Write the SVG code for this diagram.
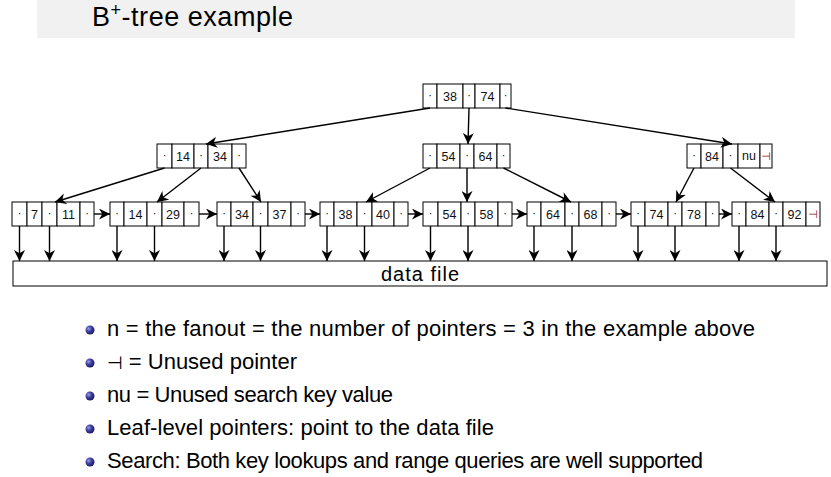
<svg xmlns="http://www.w3.org/2000/svg" width="831" height="477" viewBox="0 0 831 477">
  <defs>
    <marker id="stealth" viewBox="0 0 10 10" refX="10" refY="5" markerWidth="11" markerHeight="11" markerUnits="userSpaceOnUse" orient="auto">
      <path d="M0,0 L10,5 L0,10 L3,5 z" fill="#000"/>
    </marker>
    <radialGradient id="ball" cx="0.35" cy="0.35" r="0.7">
      <stop offset="0" stop-color="#9a9ae0"/>
      <stop offset="0.5" stop-color="#3a3aa0"/>
      <stop offset="1" stop-color="#1a1a5a"/>
    </radialGradient>
  </defs>
  <style>
    .cell { fill: #fff; stroke: #000; stroke-width: 1; }
    .key { font-family: "Liberation Sans", "DejaVu Sans", sans-serif; font-size: 12.5px; fill: #111; text-anchor: middle; }
    .dot { font-family: "DejaVu Sans", sans-serif; font-size: 10px; fill: #000; text-anchor: middle; }
    .nil { font-family: "DejaVu Sans", sans-serif; font-size: 11px; fill: #8b1a1a; text-anchor: middle; }
    .edge { stroke: #000; stroke-width: 1.4; fill: none; marker-end: url(#stealth); }
    .body { font-family: "Liberation Sans", "DejaVu Sans", sans-serif; font-size: 22px; fill: #000; }
  </style>

  <!-- title bar -->
  <rect x="37" y="0" width="758" height="38" fill="#f1f1f1"/>
  <text x="92" y="26" font-family="Liberation Sans, DejaVu Sans, sans-serif" font-size="27" fill="#000" textLength="201" lengthAdjust="spacing">B<tspan font-size="18" dy="-10">+</tspan><tspan dy="10">-tree example</tspan></text>

  <!-- root -->
  <g id="root">
    <rect class="cell" x="423" y="84" width="14" height="24"/>
    <rect class="cell" x="437" y="84" width="26" height="24"/>
    <rect class="cell" x="463" y="84" width="12" height="24"/>
    <rect class="cell" x="475" y="84" width="25" height="24"/>
    <rect class="cell" x="500" y="84" width="11" height="24"/>
    <text class="dot" x="430" y="99">·</text>
    <text class="key" x="450" y="100.5">38</text>
    <text class="dot" x="469" y="99">·</text>
    <text class="key" x="487.5" y="100.5">74</text>
    <text class="dot" x="505.5" y="99">·</text>
  </g>

  <!-- inner level -->
  <g id="inner-left">
    <rect class="cell" x="157" y="144" width="15" height="24"/>
    <rect class="cell" x="172" y="144" width="22" height="24"/>
    <rect class="cell" x="194" y="144" width="14" height="24"/>
    <rect class="cell" x="208" y="144" width="24" height="24"/>
    <rect class="cell" x="232" y="144" width="14" height="24"/>
    <text class="dot" x="164.5" y="159">·</text>
    <text class="key" x="183" y="160.5">14</text>
    <text class="dot" x="201" y="159">·</text>
    <text class="key" x="220" y="160.5">34</text>
    <text class="dot" x="239" y="159">·</text>
  </g>
  <g id="inner-mid">
    <rect class="cell" x="423" y="144" width="14" height="24"/>
    <rect class="cell" x="437" y="144" width="23" height="24"/>
    <rect class="cell" x="460" y="144" width="14" height="24"/>
    <rect class="cell" x="474" y="144" width="23" height="24"/>
    <rect class="cell" x="497" y="144" width="13" height="24"/>
    <text class="dot" x="430" y="159">·</text>
    <text class="key" x="448.5" y="160.5">54</text>
    <text class="dot" x="467" y="159">·</text>
    <text class="key" x="485.5" y="160.5">64</text>
    <text class="dot" x="503.5" y="159">·</text>
  </g>
  <g id="inner-right">
    <rect class="cell" x="687" y="144" width="14" height="24"/>
    <rect class="cell" x="701" y="144" width="22" height="24"/>
    <rect class="cell" x="723" y="144" width="15" height="24"/>
    <rect class="cell" x="738" y="144" width="22" height="24"/>
    <rect class="cell" x="760" y="144" width="12" height="24"/>
    <text class="dot" x="694" y="159">·</text>
    <text class="key" x="712" y="160.5">84</text>
    <text class="dot" x="730.5" y="159">·</text>
    <text class="key" x="749" y="159.5" font-size="9.5">nu</text>
    <text class="nil" x="766" y="160">⊣</text>
  </g>

  <!-- leaves -->
  <g id="leaf-1">
    <rect class="cell" x="12" y="202" width="15" height="24"/>
    <rect class="cell" x="27" y="202" width="15" height="24"/>
    <rect class="cell" x="42" y="202" width="15" height="24"/>
    <rect class="cell" x="57" y="202" width="23" height="24"/>
    <rect class="cell" x="80" y="202" width="14" height="24"/>
    <text class="dot" x="19.5" y="217">·</text>
    <text class="key" x="34.5" y="218.5">7</text>
    <text class="dot" x="49.5" y="217">·</text>
    <text class="key" x="68.5" y="218.5">11</text>
    <text class="dot" x="87" y="217">·</text>
  </g>
  <g id="leaf-2">
    <rect class="cell" x="110" y="202" width="14" height="24"/>
    <rect class="cell" x="124" y="202" width="23" height="24"/>
    <rect class="cell" x="147" y="202" width="15" height="24"/>
    <rect class="cell" x="162" y="202" width="22" height="24"/>
    <rect class="cell" x="184" y="202" width="15" height="24"/>
    <text class="dot" x="117" y="217">·</text>
    <text class="key" x="135.5" y="218.5">14</text>
    <text class="dot" x="154.5" y="217">·</text>
    <text class="key" x="173" y="218.5">29</text>
    <text class="dot" x="191.5" y="217">·</text>
  </g>
  <g id="leaf-3">
    <rect class="cell" x="217" y="202" width="14" height="24"/>
    <rect class="cell" x="231" y="202" width="22" height="24"/>
    <rect class="cell" x="253" y="202" width="15" height="24"/>
    <rect class="cell" x="268" y="202" width="23" height="24"/>
    <rect class="cell" x="291" y="202" width="14" height="24"/>
    <text class="dot" x="224" y="217">·</text>
    <text class="key" x="242" y="218.5">34</text>
    <text class="dot" x="260.5" y="217">·</text>
    <text class="key" x="279.5" y="218.5">37</text>
    <text class="dot" x="298" y="217">·</text>
  </g>
  <g id="leaf-4">
    <rect class="cell" x="320" y="202" width="14" height="24"/>
    <rect class="cell" x="334" y="202" width="23" height="24"/>
    <rect class="cell" x="357" y="202" width="15" height="24"/>
    <rect class="cell" x="372" y="202" width="22" height="24"/>
    <rect class="cell" x="394" y="202" width="14" height="24"/>
    <text class="dot" x="327" y="217">·</text>
    <text class="key" x="345.5" y="218.5">38</text>
    <text class="dot" x="364.5" y="217">·</text>
    <text class="key" x="383" y="218.5">40</text>
    <text class="dot" x="401" y="217">·</text>
  </g>
  <g id="leaf-5">
    <rect class="cell" x="423" y="202" width="15" height="24"/>
    <rect class="cell" x="438" y="202" width="23" height="24"/>
    <rect class="cell" x="461" y="202" width="14" height="24"/>
    <rect class="cell" x="475" y="202" width="23" height="24"/>
    <rect class="cell" x="498" y="202" width="14" height="24"/>
    <text class="dot" x="430.5" y="217">·</text>
    <text class="key" x="449.5" y="218.5">54</text>
    <text class="dot" x="468" y="217">·</text>
    <text class="key" x="486.5" y="218.5">58</text>
    <text class="dot" x="505" y="217">·</text>
  </g>
  <g id="leaf-6">
    <rect class="cell" x="527" y="202" width="14" height="24"/>
    <rect class="cell" x="541" y="202" width="24" height="24"/>
    <rect class="cell" x="565" y="202" width="14" height="24"/>
    <rect class="cell" x="579" y="202" width="23" height="24"/>
    <rect class="cell" x="602" y="202" width="14" height="24"/>
    <text class="dot" x="534" y="217">·</text>
    <text class="key" x="553" y="218.5">64</text>
    <text class="dot" x="572" y="217">·</text>
    <text class="key" x="590.5" y="218.5">68</text>
    <text class="dot" x="609" y="217">·</text>
  </g>
  <g id="leaf-7">
    <rect class="cell" x="631" y="202" width="14" height="24"/>
    <rect class="cell" x="645" y="202" width="23" height="24"/>
    <rect class="cell" x="668" y="202" width="14" height="24"/>
    <rect class="cell" x="682" y="202" width="24" height="24"/>
    <rect class="cell" x="706" y="202" width="13" height="24"/>
    <text class="dot" x="638" y="217">·</text>
    <text class="key" x="656.5" y="218.5">74</text>
    <text class="dot" x="675" y="217">·</text>
    <text class="key" x="694" y="218.5">78</text>
    <text class="dot" x="712.5" y="217">·</text>
  </g>
  <g id="leaf-8">
    <rect class="cell" x="732" y="202" width="14" height="24"/>
    <rect class="cell" x="746" y="202" width="23" height="24"/>
    <rect class="cell" x="769" y="202" width="14" height="24"/>
    <rect class="cell" x="783" y="202" width="23" height="24"/>
    <rect class="cell" x="806" y="202" width="14" height="24"/>
    <text class="dot" x="739" y="217">·</text>
    <text class="key" x="757.5" y="218.5">84</text>
    <text class="dot" x="776" y="217">·</text>
    <text class="key" x="794.5" y="218.5">92</text>
    <text class="nil" x="813" y="218">⊣</text>
  </g>

  <!-- data file -->
  <g id="data-file">
    <rect x="13" y="261" width="814" height="25" fill="#fff" stroke="#000" stroke-width="1"/>
    <text x="420" y="281" font-family="Liberation Sans, DejaVu Sans, sans-serif" font-size="20" fill="#000" text-anchor="middle" textLength="78" lengthAdjust="spacing">data file</text>
  </g>

  <!-- connectors -->
  <g id="connectors">
    <!-- root to inner level -->
    <line class="edge" x1="430" y1="108" x2="206" y2="144"/>
    <line class="edge" x1="469" y1="108" x2="468" y2="144"/>
    <line class="edge" x1="505.5" y1="108" x2="732" y2="144"/>
    <!-- inner level to leaves -->
    <line class="edge" x1="164.5" y1="168" x2="55" y2="202"/>
    <line class="edge" x1="201" y1="168" x2="157" y2="202"/>
    <line class="edge" x1="239" y1="168" x2="261" y2="202"/>
    <line class="edge" x1="430" y1="168" x2="366" y2="202"/>
    <line class="edge" x1="467" y1="168" x2="467" y2="202"/>
    <line class="edge" x1="503.5" y1="168" x2="571" y2="202"/>
    <line class="edge" x1="694" y1="168" x2="676" y2="202"/>
    <line class="edge" x1="730.5" y1="168" x2="775" y2="202"/>
    <!-- leaf chain -->
    <line class="edge" x1="94" y1="214" x2="110" y2="214"/>
    <line class="edge" x1="199" y1="214" x2="217" y2="214"/>
    <line class="edge" x1="305" y1="214" x2="320" y2="214"/>
    <line class="edge" x1="408" y1="214" x2="423" y2="214"/>
    <line class="edge" x1="512" y1="214" x2="527" y2="214"/>
    <line class="edge" x1="616" y1="214" x2="631" y2="214"/>
    <line class="edge" x1="719" y1="214" x2="732" y2="214"/>
    <!-- leaf pointers to data file -->
    <line class="edge" x1="19.5" y1="226" x2="19.5" y2="261"/>
    <line class="edge" x1="49.5" y1="226" x2="49.5" y2="261"/>
    <line class="edge" x1="117" y1="226" x2="117" y2="261"/>
    <line class="edge" x1="154.5" y1="226" x2="154.5" y2="261"/>
    <line class="edge" x1="224" y1="226" x2="224" y2="261"/>
    <line class="edge" x1="260.5" y1="226" x2="260.5" y2="261"/>
    <line class="edge" x1="327" y1="226" x2="327" y2="261"/>
    <line class="edge" x1="364.5" y1="226" x2="364.5" y2="261"/>
    <line class="edge" x1="430.5" y1="226" x2="430.5" y2="261"/>
    <line class="edge" x1="468" y1="226" x2="468" y2="261"/>
    <line class="edge" x1="534" y1="226" x2="534" y2="261"/>
    <line class="edge" x1="572" y1="226" x2="572" y2="261"/>
    <line class="edge" x1="638" y1="226" x2="638" y2="261"/>
    <line class="edge" x1="675" y1="226" x2="675" y2="261"/>
    <line class="edge" x1="739" y1="226" x2="739" y2="261"/>
    <line class="edge" x1="776" y1="226" x2="776" y2="261"/>
  </g>

  <!-- bullet list -->
  <g id="notes">
    <circle cx="90" cy="330" r="4.5" fill="url(#ball)"/>
    <circle cx="90" cy="363" r="4.5" fill="url(#ball)"/>
    <circle cx="90" cy="396" r="4.5" fill="url(#ball)"/>
    <circle cx="90" cy="429" r="4.5" fill="url(#ball)"/>
    <circle cx="90" cy="462" r="4.5" fill="url(#ball)"/>
    <text class="body" x="107" y="336" textLength="648" lengthAdjust="spacing">n = the fanout = the number of pointers = 3 in the example above</text>
    <text class="body" x="107" y="369" textLength="190" lengthAdjust="spacing"><tspan font-family="DejaVu Sans, sans-serif" font-size="18">⊣</tspan> = Unused pointer</text>
    <text class="body" x="107" y="402" textLength="286" lengthAdjust="spacing">nu = Unused search key value</text>
    <text class="body" x="107" y="435" textLength="387" lengthAdjust="spacing">Leaf-level pointers: point to the data file</text>
    <text class="body" x="107" y="468" textLength="596" lengthAdjust="spacing">Search: Both key lookups and range queries are well supported</text>
  </g>
</svg>
